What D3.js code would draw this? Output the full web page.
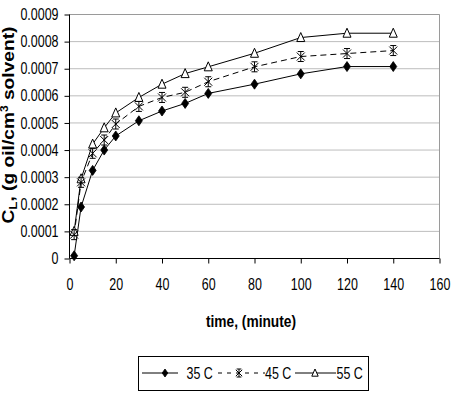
<!DOCTYPE html>
<html><head><meta charset="utf-8">
<script src="https://cdn.jsdelivr.net/npm/d3@7"></script>
<style>body{margin:0;background:#fff}svg{display:block}</style>
</head><body>
<svg id="c" width="455" height="398"></svg>
<script>
const time = [2, 5, 10, 15, 20, 30, 40, 50, 60, 80, 100, 120, 140];
const c35 = [0.00001, 0.00019, 0.000325, 0.0004, 0.000452, 0.000508, 0.000544, 0.000572, 0.000609, 0.000643, 0.000681, 0.000708, 0.000708];
const c45 = [0.000088, 0.000281, 0.000388, 0.000437, 0.000496, 0.000561, 0.000594, 0.000613, 0.000652, 0.000707, 0.000745, 0.000756, 0.000767];
const c55 = [0.0001, 0.000294, 0.000422, 0.000482, 0.000537, 0.000594, 0.000643, 0.000682, 0.000707, 0.000757, 0.000815, 0.000831, 0.000831];
const seriesNames = ["35 C", "45 C", "55 C"];
const xTicks = [0, 20, 40, 60, 80, 100, 120, 140, 160];
const yTicks = [0, 0.0001, 0.0002, 0.0003, 0.0004, 0.0005, 0.0006, 0.0007, 0.0008, 0.0009];

const svg = d3.select("#c");
const L = 69.5, R = 439.5, T = 14.5, B = 258.5;
const x = d3.scaleLinear().domain([0, 160]).range([L, R]);
const y = d3.scaleLinear().domain([0, 0.0009]).range([B, T]);
const FONT = "'Liberation Sans',Arial,sans-serif";
const SX = 0.78;

// gridlines
svg.append("g").selectAll("line").data(yTicks.slice(1)).join("line")
  .attr("x1", L).attr("x2", R).attr("y1", d => y(d)).attr("y2", d => y(d))
  .attr("stroke", "#bdbdbd").attr("stroke-width", 1);
// top/right border
svg.append("path").attr("d", `M${L},${T}H${R}V${B}`).attr("fill", "none").attr("stroke", "#9a9a9a");

const fmt = d => d === 0 ? "0" : d.toFixed(4);
const yAxis = svg.append("g").attr("transform", `translate(${L},0)`)
  .call(d3.axisLeft(y).tickValues(yTicks).tickFormat(fmt).tickSize(5).tickPadding(4));
const xAxis = svg.append("g").attr("transform", `translate(0,${B})`)
  .call(d3.axisBottom(x).tickValues(xTicks).tickFormat(d3.format("d")).tickSize(5).tickPadding(15));
[yAxis, xAxis].forEach(a => {
  a.select(".domain").attr("stroke", "#000");
  a.selectAll(".tick line").attr("stroke", "#000");
  a.selectAll("text").attr("font-family", FONT).attr("font-size", 16).attr("fill", "#000");
});
xAxis.select(".domain").attr("d", `M${L},0H${R}`);
yAxis.select(".domain").attr("d", `M0,${T}V${B}`);
xAxis.selectAll(".tick line").attr("y1", 0);
yAxis.selectAll("text").attr("x", -11 / SX).attr("transform", `scale(${SX},1)`);
xAxis.selectAll("text").attr("transform", `scale(${SX},1)`);

// markers
function diamond(g, k) {
  g.append("path").attr("d", `M0,${-5*k}L${3.5*k},0L0,${5*k}L${-3.5*k},0Z`).attr("fill", "#000").attr("stroke", "#000").attr("stroke-width", 0.8);
}
function star(g, k) {
  g.append("path").attr("d", `M${-4*k},${-4*k}L${4*k},${4*k}M${-4*k},${4*k}L${4*k},${-4*k}M0,${-5*k}V${5*k}M${-3*k},${-5*k}H${3*k}M${-3*k},${5*k}H${3*k}`)
    .attr("fill", "none").attr("stroke", "#000").attr("stroke-width", 1);
}
function tri(g, k) {
  g.append("path").attr("d", `M0,${-5*k}L${4*k},${4*k}H${-4*k}Z`).attr("fill", "#fff").attr("stroke", "#000").attr("stroke-width", 1);
}

const series = [
  {name: seriesNames[0], vals: c35, dash: null, mk: diamond},
  {name: seriesNames[1], vals: c45, dash: "6,4", mk: star},
  {name: seriesNames[2], vals: c55, dash: null, mk: tri}
];
const line = d3.line().x(d => x(d[0])).y(d => y(d[1]));
series.forEach(s => {
  const pts = time.map((t, i) => [t, s.vals[i]]);
  svg.append("path").attr("d", line(pts)).attr("fill", "none").attr("stroke", "#000")
    .attr("stroke-width", 1).attr("stroke-dasharray", s.dash);
});
series.slice().reverse().forEach(s => {
  time.forEach((t, i) => {
    const g = svg.append("g").attr("transform", `translate(${x(t)},${y(s.vals[i])})`);
    s.mk(g, 1);
  });
});

// axis titles
svg.append("text").attr("transform", "translate(251,327) scale(0.86,1)").attr("text-anchor", "middle")
  .attr("font-family", FONT).attr("font-weight", "bold").attr("font-size", 16).text("time, (minute)");
const yt = svg.append("text").attr("transform", "translate(14,125) rotate(-90) scale(1.2,1)").attr("text-anchor", "middle")
  .attr("font-family", FONT).attr("font-weight", "bold").attr("font-size", 16);
yt.append("tspan").text("C");
yt.append("tspan").attr("font-size", 11).attr("dy", 3).text("L");
yt.append("tspan").attr("dy", -3).text(", (g oil/cm");
yt.append("tspan").attr("font-size", 10).attr("dy", -6).text("3");
yt.append("tspan").attr("dy", 6).text(" solvent)");

// legend
const lg = svg.append("g");
lg.append("rect").attr("x", 138.5).attr("y", 356.5).attr("width", 230).attr("height", 34)
  .attr("fill", "#fff").attr("stroke", "#000");
const items = [{x0: 142, x1: 178, m: 165, tx: 186.5}, {x0: 218, x1: 265, m: 239, tx: 265}, {x0: 295, x1: 336, m: 315, tx: 336.5}];
series.forEach((s, i) => {
  const it = items[i], cy = 373;
  lg.append("line").attr("x1", it.x0).attr("x2", it.x1).attr("y1", cy).attr("y2", cy)
    .attr("stroke", "#000").attr("stroke-dasharray", s.dash ? "4,5" : null);
  const g = lg.append("g").attr("transform", `translate(${it.m},${cy})`);
  s.mk(g, 0.8);
  lg.append("text").attr("transform", `translate(${it.tx},${cy + 6}) scale(${SX},1)`).attr("font-family", FONT)
    .attr("font-size", 16).attr("fill", "#000").text(s.name);
});
</script>
</body></html>
